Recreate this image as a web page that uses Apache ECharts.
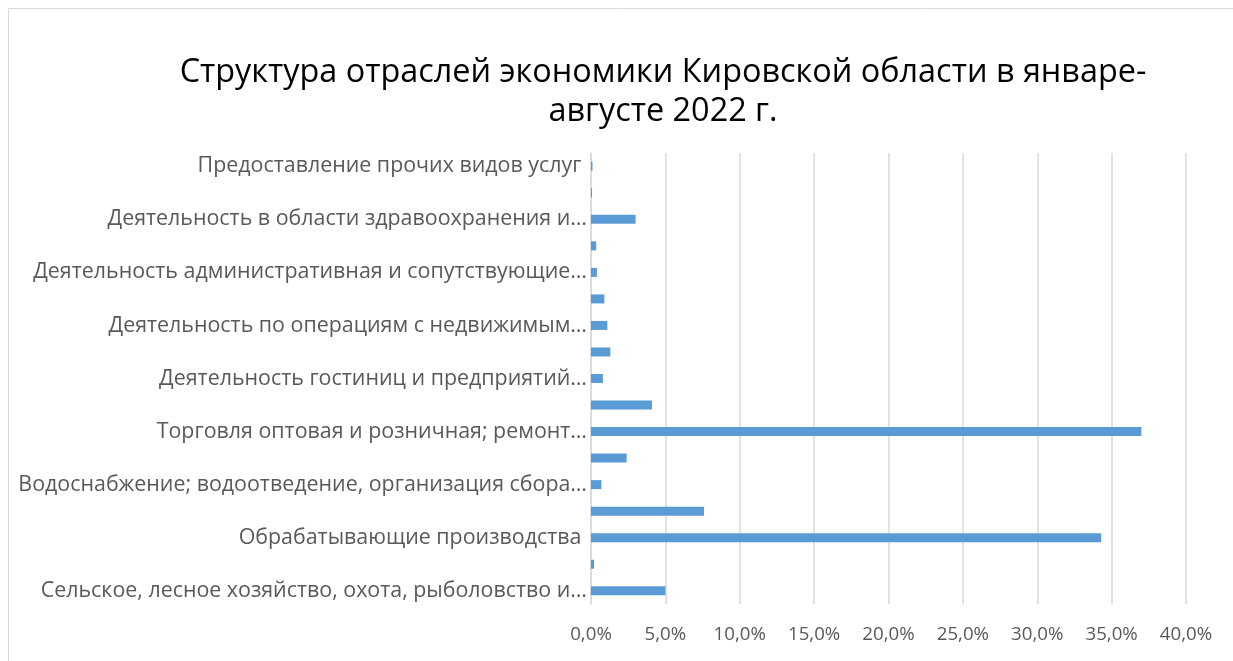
<!DOCTYPE html>
<html>
<head>
<meta charset="utf-8">
<script src="https://cdn.jsdelivr.net/npm/echarts@6/dist/echarts.min.js"></script>
<style>
  html, body { margin: 0; padding: 0; background: #fff; }
  #chart { width: 1233px; height: 661px; }
</style>
</head>
<body>
<div id="chart"></div>
<script>
// отрасли (снизу вверх)
const categories = [
    "Сельское, лесное хозяйство, охота, рыболовство и…",
    "Добыча полезных ископаемых",
    "Обрабатывающие производства ",
    "Обеспечение электрической энергией, газом и паром",
    "Водоснабжение; водоотведение, организация сбора…",
    "Строительство",
    "Торговля оптовая и розничная; ремонт…",
    "Транспортировка и хранение",
    "Деятельность гостиниц и предприятий…",
    "Деятельность в области информации и связи",
    "Деятельность по операциям с недвижимым…",
    "Деятельность профессиональная, научная и техническая",
    "Деятельность административная и сопутствующие…",
    "Образование",
    "Деятельность в области здравоохранения и…",
    "Деятельность в области культуры и спорта",
    "Предоставление прочих видов услуг ",
]
// доля, %
const shares = [5.0, 0.2, 34.3, 7.6, 0.7, 2.4, 37.0, 4.1, 0.8, 1.3, 1.1, 0.9, 0.4, 0.35, 3.0, 0.07, 0.1]
const xTicks = {min: 0, max: 40, step: 5}
const titleLines = ["Структура отраслей экономики Кировской области в январе-", "августе 2022 г."]

const initialChart = () => {
    const chart = echarts.init(document.getElementById("chart"))
    const font = '"Open Sans", "Noto Sans", sans-serif'
    let option = {
        animation: false,
        backgroundColor: '#fff',
        graphic: [
            {
                type: 'rect',
                shape: {x: 8.5, y: 8.5, width: 1400, height: 800},
                style: {fill: 'none', stroke: '#d9d9d9', lineWidth: 1},
                silent: true,
            },
            {
                type: 'text', x: 663, y: 73,
                style: {text: titleLines[0], font: '32.4px ' + font, fill: '#000', textAlign: 'center', textVerticalAlign: 'middle'},
            },
            {
                type: 'text', x: 663, y: 112,
                style: {text: titleLines[1], font: '32.4px ' + font, fill: '#000', textAlign: 'center', textVerticalAlign: 'middle'},
            },
        ],
        grid: {left: 591, right: 47, top: 153, bottom: 57},
        xAxis: {
            type: 'value',
            min: xTicks.min,
            max: xTicks.max,
            interval: xTicks.step,
            axisLine: {show: false},
            axisTick: {show: false},
            axisLabel: {
                color: '#595959',
                fontSize: 18.7,
                fontFamily: font,
                margin: 21,
                formatter: v => v.toFixed(1).replace('.', ',') + '%',
            },
            splitLine: {lineStyle: {color: '#d9d9d9', width: 1.5}},
        },
        yAxis: {
            type: 'category',
            data: categories,
            axisLine: {show: true, lineStyle: {color: '#d9d9d9', width: 1.5}},
            axisTick: {show: false},
            axisLabel: {
                interval: 1,
                color: '#595959',
                fontSize: 21.4,
                fontFamily: font,
                margin: 4,
            },
        },
        series: {
            type: 'bar',
            data: shares,
            barWidth: 9,
            itemStyle: {color: '#5b9bd5'},
        },
    }
    chart.setOption(option)
}

initialChart()
</script>
</body>
</html>
